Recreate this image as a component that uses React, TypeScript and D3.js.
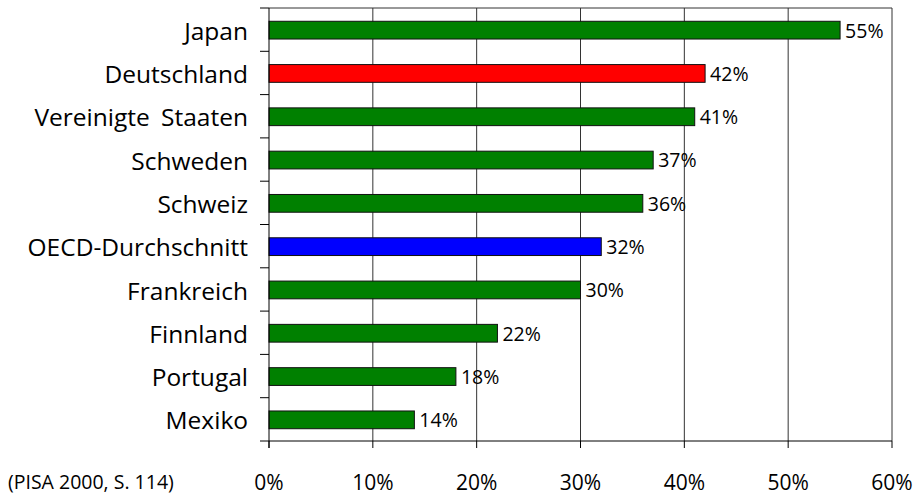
import * as d3 from 'd3';

// PISA 2000 – Anteil (%)
const countries = [
  'Japan',
  'Deutschland',
  'Vereinigte Staaten',
  'Schweden',
  'Schweiz',
  'OECD-Durchschnitt',
  'Frankreich',
  'Finnland',
  'Portugal',
  'Mexiko',
];
const shares = [55, 42, 41, 37, 36, 32, 30, 22, 18, 14];
const barColors = ['green', 'red', 'green', 'green', 'green', 'blue', 'green', 'green', 'green', 'green'];
const xTicks = [0, 10, 20, 30, 40, 50, 60];
const sourceNote = '(PISA 2000, S. 114)';

const colorMap: Record<string, string> = {
  green: '#008000',
  red: '#ff0000',
  blue: '#0000ff',
};

const W = 918;
const H = 497;
const margin = { top: 8, right: 26, bottom: 56, left: 269 };
const FONT = '"Open Sans", sans-serif';

export default function App() {
  const plotW = W - margin.left - margin.right;
  const plotH = H - margin.top - margin.bottom;

  const x = d3.scaleLinear().domain([0, 60]).range([margin.left, margin.left + plotW]);
  const y = d3
    .scaleBand<string>()
    .domain(countries)
    .range([margin.top + 0.5, margin.top + plotH + 0.5])
    .padding(0);

  const barH = y.step() * 0.41;
  const bottom = margin.top + plotH;
  const data = countries.map((c, i) => ({ c, v: shares[i], color: colorMap[barColors[i]] }));

  return (
    <svg
      width={W}
      height={H}
      style={{ display: 'block', position: 'absolute', left: 0, top: 0, background: '#fff' }}
      fontFamily={FONT}
    >
      {/* gridlines */}
      {xTicks.slice(1).map((t) => (
        <line key={t} x1={x(t)} x2={x(t)} y1={margin.top} y2={bottom} stroke="#333" strokeWidth={1} />
      ))}
      {/* top border */}
      <line x1={margin.left} x2={x(60)} y1={margin.top} y2={margin.top} stroke="#333" />

      {/* bars */}
      {data.map((d) => {
        const cy = y(d.c)! + y.bandwidth() / 2;
        return (
          <g key={d.c}>
            <rect
              x={x(0)}
              y={cy - barH / 2}
              width={x(d.v) - x(0)}
              height={barH}
              fill={d.color}
              stroke="#111"
              strokeWidth={1}
            />
            <text x={x(d.v) + 5} y={cy} dy="0.38em" fontSize={19.5} fill="#000">
              {d.v}%
            </text>
            <text
              x={248}
              y={cy}
              dy="0.39em"
              textAnchor="end"
              fontSize={24.5}
              wordSpacing={5}
              fill="#000"
            >
              {d.c}
            </text>
          </g>
        );
      })}

      {/* y axis */}
      <line x1={margin.left} x2={margin.left} y1={margin.top} y2={bottom + 7} stroke="#000" />
      {countries.map((c) => (
        <line key={c} x1={margin.left - 9} x2={margin.left} y1={y(c)! - 0.5} y2={y(c)! - 0.5} stroke="#000" />
      ))}
      <line x1={margin.left - 9} x2={margin.left} y1={bottom} y2={bottom} stroke="#000" />

      {/* x axis */}
      <line x1={margin.left} x2={x(60)} y1={bottom} y2={bottom} stroke="#000" />
      {xTicks.map((t) => (
        <g key={t}>
          <line x1={x(t)} x2={x(t)} y1={bottom} y2={bottom + 7} stroke="#000" />
          <text x={x(t)} y={490} textAnchor="middle" fontSize={21} fill="#000">
            {t}%
          </text>
        </g>
      ))}

      <text x={8} y={489} fontSize={19.5} fill="#000">
        {sourceNote}
      </text>
    </svg>
  );
}
